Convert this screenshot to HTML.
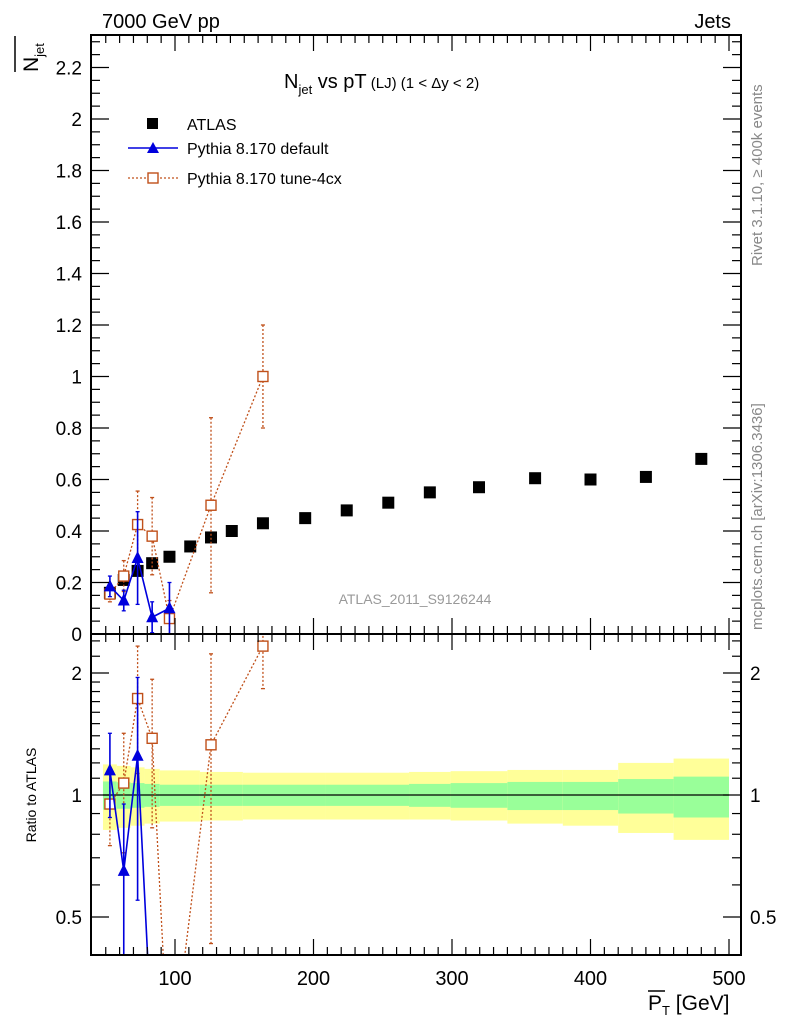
<!DOCTYPE html>
<html><head><meta charset="utf-8"><style>
html,body{margin:0;padding:0;background:#fff;overflow:hidden;width:786px;height:1024px;}
svg{display:block;font-family:"Liberation Sans",sans-serif;}
</style></head><body>
<svg id="c" width="786" height="1024"></svg>
<script>
const atlasX=[53,63,73,83.5,96,111,126,141,163.5,194,224,254,284,319.5,360,400,440,480];
const atlasY=[0.16,0.21,0.245,0.275,0.30,0.34,0.375,0.40,0.43,0.45,0.48,0.51,0.55,0.57,0.605,0.60,0.61,0.68];
const defX=[53,63,73,83.5,96];
const defY=[0.185,0.13,0.295,0.065,0.10];
const defErr=[0.04,0.04,0.18,0.06,0.10];
const defR=[1.15,0.65,1.25,0.24,0.33];
const defRErr=[0.27,0.3,0.7,0,0];
const tunX=[53,63,73,83.5,96,126,163.5];
const tunY=[0.155,0.225,0.425,0.38,0.06,0.5,1.0];
const tunErr=[0.03,0.06,0.13,0.15,0.07,0.34,0.2];
const tunR=[0.95,1.07,1.73,1.38,0.2,1.33,2.33];
const tunRErr=[0.2,0.35,0.6,0.55,0,0.9,0.5];
const binEdges=[48,58,68,78,89,118,149,209,269,299,340,380,420,460,500];
const yelUp=[1.19,1.18,1.17,1.16,1.15,1.14,1.135,1.135,1.14,1.145,1.153,1.153,1.2,1.23];
const yelDn=[0.82,0.83,0.84,0.85,0.86,0.865,0.87,0.87,0.87,0.865,0.85,0.84,0.806,0.775];
const grnUp=[1.08,1.075,1.07,1.065,1.06,1.06,1.06,1.06,1.065,1.07,1.077,1.077,1.095,1.11];
const grnDn=[0.92,0.925,0.93,0.935,0.94,0.94,0.94,0.94,0.935,0.93,0.918,0.918,0.90,0.88];
const xTicks=[100,200,300,400,500];
const yTicks=[0,0.2,0.4,0.6,0.8,1,1.2,1.4,1.6,1.8,2,2.2];
const rTicks=[0.5,1,2];

const NS='http://www.w3.org/2000/svg';
const svg=document.getElementById('c');
function el(t,a,p){const e=document.createElementNS(NS,t);for(const k in a)e.setAttribute(k,a[k]);(p||svg).appendChild(e);return e;}
const L=91,R=741,T=35,M=634,B=955;
const X=v=>36.5+v*1.385;
const Y=v=>634-v*257.5;
const RY=v=>795-Math.log2(v)*122;
const defs=el('defs',{});
const cp1=el('clipPath',{id:'cm'},defs);el('rect',{x:L,y:T,width:R-L,height:M-T},cp1);
const cp2=el('clipPath',{id:'cr'},defs);el('rect',{x:L,y:M,width:R-L,height:B-M},cp2);
const gm=el('g',{'clip-path':'url(#cm)'});
const gr=el('g',{'clip-path':'url(#cr)'});

for(let i=0;i<binEdges.length-1;i++){
 const x0=X(binEdges[i]),x1=X(binEdges[i+1]);
 const y=el('rect',{x:x0,y:RY(yelUp[i]),width:x1-x0,height:RY(yelDn[i])-RY(yelUp[i]),fill:'#ffff99'},gr);
 
 const g=el('rect',{x:x0,y:RY(grnUp[i]),width:x1-x0,height:RY(grnDn[i])-RY(grnUp[i]),fill:'#99ff99'},gr);
 
}
el('line',{x1:X(binEdges[0]),x2:X(500),y1:RY(1),y2:RY(1),stroke:'#000','stroke-width':1.3},gr);

atlasX.forEach((x,i)=>{const r=el('rect',{x:X(x)-6,y:Y(atlasY[i])-6,width:12,height:12,fill:'#000'},gm);
 });

function series(xs,ys,errs,yf,g,col,dash,tri){
 el('polyline',{points:xs.map((x,i)=>X(x)+','+yf(ys[i])).join(' '),fill:'none',stroke:col,'stroke-width':dash?1.3:1.6,'stroke-dasharray':dash||'none'},g);
 xs.forEach((x,i)=>{
  if(errs[i]>0){
  let up,dn;
  if(yf===Y){up=Y(ys[i]+errs[i]);dn=Y(Math.max(ys[i]-errs[i],0));}
  else{up=RY(ys[i]+errs[i]);dn=RY(Math.max(ys[i]-errs[i],0.3));}
  el('line',{x1:X(x),x2:X(x),y1:up,y2:dn,stroke:col,'stroke-width':dash?1.3:1.6,'stroke-dasharray':dash||'none'},g);
  el('line',{x1:X(x)-2,x2:X(x)+2,y1:up,y2:up,stroke:col,'stroke-width':1.3},g);
  el('line',{x1:X(x)-2,x2:X(x)+2,y1:dn,y2:dn,stroke:col,'stroke-width':1.3},g);
  }
  const cx=X(x),cy=yf(ys[i]);let m;
  if(tri)m=el('polygon',{points:`${cx-6},${cy+5} ${cx+6},${cy+5} ${cx},${cy-7}`,fill:col},g);
  else m=el('rect',{x:cx-5,y:cy-5,width:10,height:10,fill:'#fff',stroke:col,'stroke-width':1.4},g);
  
  
 });
}
series(tunX,tunY,tunErr,Y,gm,'#c0501a','2,2',false);
series(defX,defY,defErr,Y,gm,'#0000dd',null,true);
series(tunX,tunR,tunRErr,RY,gr,'#c0501a','2,2',false);
series(defX,defR,defRErr,RY,gr,'#0000dd',null,true);

el('rect',{x:L,y:T,width:R-L,height:M-T,fill:'none',stroke:'#000','stroke-width':2});
el('rect',{x:L,y:M,width:R-L,height:B-M,fill:'none',stroke:'#000','stroke-width':2});
function tx(x,y,s,txt,anchor,extra){const t=el('text',Object.assign({x:x,y:y,'font-size':s,'text-anchor':anchor||'start'},extra||{}));t.textContent=txt;return t;}
for(let v=50;v<=500;v+=10){const big=v%100===0;const x=X(v);if(x<L||x>R)continue;const h=big?16:8;
 el('line',{x1:x,x2:x,y1:T,y2:T+h,stroke:'#000','stroke-width':1.2});
 el('line',{x1:x,x2:x,y1:M,y2:M-h,stroke:'#000','stroke-width':1.2});
 el('line',{x1:x,x2:x,y1:M,y2:M+h,stroke:'#000','stroke-width':1.2});
 el('line',{x1:x,x2:x,y1:B,y2:B-h,stroke:'#000','stroke-width':1.2});
}
xTicks.forEach(v=>{const t=tx(X(v),985,20,String(v),'middle');});
for(let k=0;k<=46;k++){const v=k*0.05;const y=Y(v);if(y<T)break;const big=k%4===0;
 el('line',{x1:L,x2:L+(big?18:9),y1:y,y2:y,stroke:'#000','stroke-width':1.2});
 el('line',{x1:R,x2:R-(big?18:9),y1:y,y2:y,stroke:'#000','stroke-width':1.2});}
yTicks.forEach(v=>{const t=tx(82,Y(v)+7,19,String(Math.round(v*10)/10),'end');});
[0.5,0.6,0.7,0.8,0.9,1,1.1,1.2,1.3,1.4,1.5,1.6,1.7,1.8,1.9,2,2.2,2.4].forEach(v=>{const y=RY(v);if(y<M||y>B)return;const big=(v===0.5||v===1||v===2);
 el('line',{x1:L,x2:L+(big?18:9),y1:y,y2:y,stroke:'#000','stroke-width':1.2});
 el('line',{x1:R,x2:R-(big?18:9),y1:y,y2:y,stroke:'#000','stroke-width':1.2});});
rTicks.forEach(v=>{tx(82,RY(v)+7,19,String(v),'end');tx(750,RY(v)+7,19,String(v),'start');});

tx(102,28,20,'7000 GeV pp');tx(731,28,20,'Jets','end');
const tt=el('text',{x:284,y:88,'font-size':20});tt.innerHTML='N<tspan font-size="13" dy="6">jet</tspan><tspan dy="-6"> vs pT</tspan><tspan font-size="15"> (LJ) (1 &lt; Δy &lt; 2)</tspan>';

el('rect',{x:147,y:118,width:11,height:11,fill:'#000'});tx(187,130,16,'ATLAS');
el('line',{x1:128,x2:178,y1:148,y2:148,stroke:'#0000dd','stroke-width':1.5});
el('polygon',{points:'147,153 159,153 153,142',fill:'#0000dd'});tx(187,154,16,'Pythia 8.170 default');
el('line',{x1:128,x2:178,y1:178,y2:178,stroke:'#c0501a','stroke-width':1.3,'stroke-dasharray':'2,2'});
el('rect',{x:148,y:173,width:10,height:10,fill:'#fff',stroke:'#c0501a','stroke-width':1.4});tx(187,184,16,'Pythia 8.170 tune-4cx');
tx(415,604,14,'ATLAS_2011_S9126244','middle',{fill:'#999'});
const yt=el('text',{x:0,y:0,'font-size':21,transform:'translate(38,72) rotate(-90)','text-anchor':'start'});yt.innerHTML='N<tspan font-size="13" dy="6">jet</tspan>';
el('line',{x1:15,x2:15,y1:36,y2:72,stroke:'#000','stroke-width':1.5});
tx(0,0,14,'Ratio to ATLAS','middle',{transform:'translate(36,795) rotate(-90)'});
const xt=el('text',{x:648,y:1010,'font-size':21,'text-anchor':'start'});xt.innerHTML='P<tspan font-size="13" dy="5">T</tspan><tspan dy="-5"> [GeV]</tspan>';
el('line',{x1:648,x2:665,y1:991,y2:991,stroke:'#000','stroke-width':1.5});
tx(0,0,15,'Rivet 3.1.10, ≥ 400k events','start',{fill:'#888',transform:'translate(762,266) rotate(-90)'});
tx(0,0,15,'mcplots.cern.ch [arXiv:1306.3436]','start',{fill:'#888',transform:'translate(762,630) rotate(-90)'});
</script></body></html>
